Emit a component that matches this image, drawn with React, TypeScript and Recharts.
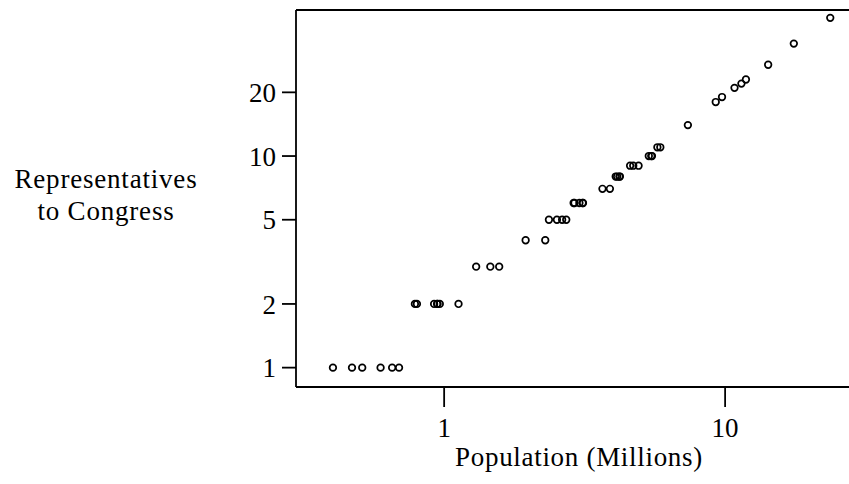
import { ReferenceLine, Scatter, ScatterChart, XAxis, YAxis } from 'recharts';

// 1980 census: state populations (millions) and House seats
const states = [
  'CA', 'NY', 'TX', 'PA', 'IL', 'OH', 'FL', 'MI', 'NJ', 'NC',
  'MA', 'IN', 'GA', 'VA', 'MO', 'WI', 'TN', 'MD', 'LA', 'WA',
  'MN', 'AL', 'KY', 'SC', 'OK', 'CT', 'IA', 'CO', 'AZ', 'OR',
  'MS', 'KS', 'AR', 'WV', 'NE', 'UT', 'NM', 'ME', 'HI', 'RI',
  'ID', 'NH', 'NV', 'MT', 'SD', 'ND', 'DE', 'VT', 'WY', 'AK',
];
const population = [
  23.67, 17.56, 14.23, 11.86, 11.43, 10.8, 9.75, 9.26, 7.37, 5.88,
  5.74, 5.49, 5.46, 5.35, 4.92, 4.71, 4.59, 4.22, 4.21, 4.13,
  4.08, 3.89, 3.66, 3.12, 3.03, 3.11, 2.91, 2.89, 2.72, 2.63,
  2.52, 2.36, 2.29, 1.95, 1.57, 1.46, 1.3, 1.125, 0.965, 0.947,
  0.944, 0.921, 0.8, 0.787, 0.691, 0.653, 0.594, 0.511, 0.47, 0.402,
];
const representatives = [
  45, 34, 27, 23, 22, 21, 19, 18, 14, 11,
  11, 10, 10, 10, 9, 9, 9, 8, 8, 8,
  8, 7, 7, 6, 6, 6, 6, 6, 5, 5,
  5, 5, 4, 4, 3, 3, 3, 2, 2, 2,
  2, 2, 2, 2, 1, 1, 1, 1, 1, 1,
];
const xTicks = [1, 10];
const yTicks = [1, 2, 5, 10, 20];

const FONT = '"Liberation Serif", "Times New Roman", serif';
const xDomain: [number, number] = [0.297, 27.6];
const yDomain: [number, number] = [0.81, 49];

const points = states.map((state, i) => ({
  state,
  pop: population[i],
  reps: representatives[i],
}));

const Ring = (props: any) => (
  <circle cx={props.cx} cy={props.cy} r={3.3} fill="none" stroke="#000" strokeWidth={1.7} />
);

export default function App() {
  return (
    <div style={{ position: 'absolute', left: 0, top: 0, width: 849, height: 484, background: '#fff' }}>
      <ScatterChart width={849} height={484} margin={{ top: 10, right: 0, bottom: 0, left: 0 }}>
        <XAxis
          type="number"
          dataKey="pop"
          scale="log"
          domain={xDomain}
          allowDataOverflow
          ticks={xTicks}
          height={97}
          tickSize={20}
          tickMargin={11}
          axisLine={{ stroke: '#000', strokeWidth: 1.8 }}
          tickLine={{ stroke: '#000', strokeWidth: 1.8 }}
          tick={{ fill: '#000', fontSize: 27, fontFamily: FONT }}
          label={{
            content: () => (
              <text x={579} y={466} textAnchor="middle" fill="#000" fontSize={27} letterSpacing={0.7} fontFamily={FONT}>
                Population (Millions)
              </text>
            ),
          }}
        />
        <YAxis
          type="number"
          dataKey="reps"
          scale="log"
          domain={yDomain}
          allowDataOverflow
          ticks={yTicks}
          width={296}
          tickSize={14}
          tickMargin={6}
          axisLine={{ stroke: '#000', strokeWidth: 1.8 }}
          tickLine={{ stroke: '#000', strokeWidth: 1.8 }}
          tick={{ fill: '#000', fontSize: 27, fontFamily: FONT }}
          label={{
            content: () => (
              <text textAnchor="middle" fill="#000" fontSize={27} letterSpacing={0.8} fontFamily={FONT}>
                <tspan x={106} y={188}>Representatives</tspan>
                <tspan x={106} y={220}>to Congress</tspan>
              </text>
            ),
          }}
        />
        <ReferenceLine y={yDomain[1]} stroke="#000" strokeWidth={1.8} />
        <Scatter data={points} shape={Ring} isAnimationActive={false} />
      </ScatterChart>
    </div>
  );
}
